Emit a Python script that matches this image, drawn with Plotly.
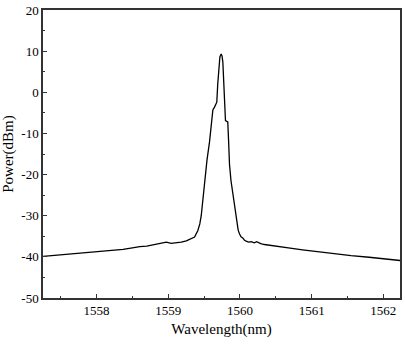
import plotly.graph_objects as go

wavelength = [1557.253, 1557.45, 1557.674, 1557.9, 1558.139, 1558.37, 1558.5, 1558.602,
              1558.7, 1558.787, 1558.88, 1558.973, 1559.04, 1559.112, 1559.18, 1559.252,
              1559.31, 1559.367, 1559.413, 1559.44, 1559.46, 1559.485, 1559.506, 1559.54,
              1559.576, 1559.6, 1559.622, 1559.645, 1559.659, 1559.677, 1559.69, 1559.705,
              1559.72, 1559.738, 1559.75, 1559.761, 1559.772, 1559.784, 1559.798, 1559.81,
              1559.83, 1559.842, 1559.854, 1559.875, 1559.9, 1559.93, 1559.955, 1559.975,
              1559.993, 1560.015, 1560.039, 1560.06, 1560.086, 1560.12, 1560.156, 1560.2,
              1560.233, 1560.29, 1560.341, 1560.45, 1560.549, 1560.7, 1560.873, 1561.1,
              1561.338, 1561.55, 1561.801, 1562.0, 1562.242]
power = [-39.9, -39.6, -39.3, -38.9, -38.6, -38.2, -37.8, -37.5,
         -37.4, -37.1, -36.9, -36.4, -36.7, -36.6, -36.4, -36.1,
         -35.7, -35.2, -33.6, -32.0, -30.0, -25.5, -21.0, -16.5,
         -12.0, -7.5, -4.3, -3.6, -3.1, -2.4, 2.0, 6.6,
         8.6, 9.3, 8.8, 7.4, 3.5, -1.5, -6.9, -7.0,
         -7.2, -12.0, -17.5, -21.5, -24.5, -28.5, -32.1, -33.5,
         -34.4, -35.1, -35.4, -35.9, -36.2, -36.4, -36.3, -36.6,
         -36.3, -36.8, -37.0, -37.3, -37.6, -37.9, -38.3, -38.8,
         -39.3, -39.7, -40.1, -40.5, -40.9]

x_ticks = [1558, 1559, 1560, 1561, 1562]
x_ticklabels = ["1558", "1559", "1560", "1561", "1562"]
y_ticks = [-50, -40, -30, -20, -10, 0, 10, 20]
y_ticklabels = ["-50", "-40", "-30", "-20", "-10", "0", "10", "20"]

fig = go.Figure()
fig.add_trace(go.Scatter(x=wavelength, y=power, mode="lines",
                         line=dict(color="black", width=1.3), showlegend=False))

font = "Liberation Serif"
axis_common = dict(showline=True, linecolor="#333333", linewidth=1.5, mirror=True,
                   ticks="inside", ticklen=4, tickwidth=1.2, tickcolor="#333333",
                   showgrid=False, zeroline=False,
                   tickfont=dict(family=font, size=13, color="black"))

fig.update_xaxes(range=[1557.253, 1562.232], tickvals=x_ticks, ticktext=x_ticklabels,
                 title=dict(text="Wavelength(nm)", font=dict(family=font, size=15, color="black"), standoff=6),
                 minor=dict(dtick=0.5, tick0=1557.5, ticks="inside", ticklen=2.5, tickwidth=1.2, tickcolor="#333333"),
                 **axis_common)
fig.update_yaxes(range=[-50, 20], tickvals=y_ticks, ticktext=y_ticklabels,
                 title=dict(text="Power(dBm)", font=dict(family=font, size=15, color="black"), standoff=4),
                 minor=dict(dtick=5, tick0=-45, ticks="inside", ticklen=2.5, tickwidth=1.2, tickcolor="#333333"),
                 **axis_common)

fig.update_layout(width=405, height=345, margin=dict(l=43, r=3, t=8, b=47),
                  plot_bgcolor="white", paper_bgcolor="white")
fig.write_html("out.html", config={"displayModeBar": False},
               post_script="document.body.style.margin='0px';")
